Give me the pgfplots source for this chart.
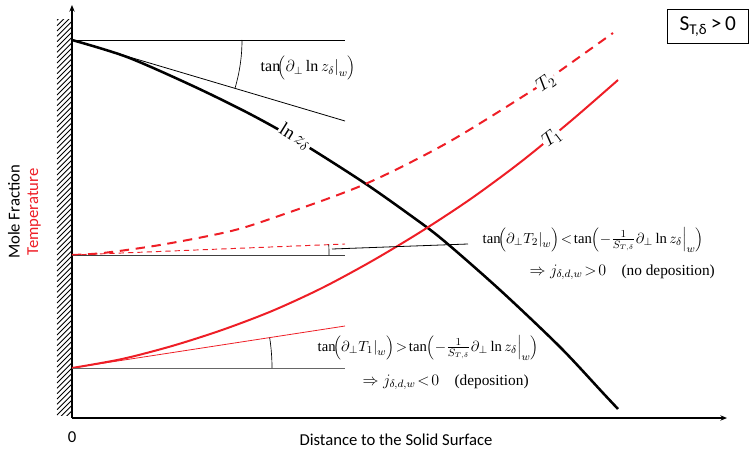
\documentclass[border=0pt]{standalone}
\usepackage{pgfplots}
\pgfplotsset{compat=1.18}
\usepackage{fontspec}
\setmainfont{Liberation Serif}
\newfontfamily\calibri{Carlito}
\usetikzlibrary{arrows.meta}
\definecolor{tred}{RGB}{238,30,38}
\begin{document}
\begin{tikzpicture}
\begin{axis}[scale only axis,width=491.25pt,height=309.75pt,
  xmin=0,xmax=655,ymin=0,ymax=413,
  axis x line=bottom,axis y line=left,ticks=none,clip=false,
  axis line style={line width=0.9pt,-{Stealth[length=5pt,width=4pt]}}]
% page frame
\path (axis cs:-72,-31) rectangle (axis cs:677,418);
\coordinate (hb) at (axis cs:-15,3);
\coordinate (ht) at (axis cs:0,398);
% ln z
\addplot[black,line width=1.9pt,smooth] coordinates {(0,378) (55,361) (121,332) (178,304) (228,276) (291,236) (338,203) (371,178) (428,128) (488,71) (531,25) (546,9)};
% T2
\addplot[tred,line width=1.5pt,smooth,dash pattern=on 7pt off 5pt] coordinates {(0,163) (31,165) (88,173) (155,186) (198,199) (291,233) (375,275) (461,328) (485,345) (541,385)};
% T1
\addplot[tred,line width=1.5pt,smooth] coordinates {(0,50) (50,59) (100,72) (150,88) (200,107) (250,130) (300,157) (350,187) (400,220) (450,257) (500,298) (546,338)};
% horizontals and tangents
\addplot[black,line width=0.6pt] coordinates {(0,378) (273,378)};
\addplot[black,line width=0.6pt] coordinates {(0,378) (273,297)};
\addplot[black!75,line width=0.6pt] coordinates {(0,163) (273,163)};
\addplot[tred,line width=0.7pt,dash pattern=on 4pt off 3pt] coordinates {(0,163) (273,174)};
\addplot[black,line width=0.6pt] coordinates {(260,169) (396,174)};
\addplot[black!60,line width=0.6pt] coordinates {(0,50) (273,50)};
\addplot[tred,line width=0.6pt] coordinates {(0,50) (273,92)};
% angle arcs
\draw[line width=0.5pt] (axis cs:170,378) arc[start angle=0,end angle=-16.5,radius=127.5pt];
\draw[line width=0.5pt] (axis cs:257,163) arc[start angle=0,end angle=2.3,radius=192.75pt];
\draw[line width=0.5pt] (axis cs:200,50) arc[start angle=0,end angle=8.7,radius=150pt];
% curve labels
\node[fill=white,inner sep=1pt,rotate=-32,font=\fontsize{14}{14}\selectfont] at (axis cs:223,281) {$\ln z_\delta$};
\node[fill=white,inner sep=1pt,rotate=35,font=\fontsize{14}{14}\selectfont] at (axis cs:474,335) {$T_2$};
\node[fill=white,inner sep=1pt,rotate=38,font=\fontsize{14}{14}\selectfont] at (axis cs:480,280) {$T_1$};
% annotations
\node[anchor=west,font=\fontsize{12}{14}\selectfont] at (axis cs:184,350) {$\tan\!\Bigl(\partial_\perp \ln z_\delta\big|_{w}\Bigr)$};
\node[anchor=west,font=\fontsize{11}{13}\selectfont] at (axis cs:406,178) {$\tan\!\Bigl(\partial_\perp T_2\big|_w\Bigr)\!<\!\tan\!\left(-\frac{1}{S_{T,\delta}}\partial_\perp \ln z_\delta\Big|_w\right)$};
\node[anchor=west,font=\fontsize{11.5}{13}\selectfont] at (axis cs:453,146) {$\Rightarrow j_{\delta,d,w}\!>\!0$\quad(no deposition)};
\node[anchor=west,font=\fontsize{11}{13}\selectfont] at (axis cs:241,70) {$\tan\!\Bigl(\partial_\perp T_1\big|_w\Bigr)\!>\!\tan\!\left(-\frac{1}{S_{T,\delta}}\partial_\perp \ln z_\delta\Big|_w\right)$};
\node[anchor=west,font=\fontsize{11.5}{13}\selectfont] at (axis cs:286,36) {$\Rightarrow j_{\delta,d,w}\!<\!0$\quad(deposition)};
% axis texts
\node[font=\calibri\fontsize{12.5}{14}\selectfont] at (axis cs:0,-19) {0};
\node[font=\calibri\fontsize{12.5}{14}\selectfont] at (axis cs:324,-22) {Distance to the Solid Surface};
\node[rotate=90,font=\calibri\fontsize{12.5}{14}\selectfont] at (axis cs:-58,206) {Mole Fraction};
\node[rotate=90,text=tred,font=\calibri\fontsize{12.5}{14}\selectfont] at (axis cs:-38,206) {Temperature};
\node[draw,line width=0.6pt,anchor=north west,minimum width=60.5pt,minimum height=25.5pt,inner sep=2pt,font=\calibri\fontsize{16}{17}\selectfont] at (axis cs:595,409) {S\textsubscript{T,δ}\,>\,0};
\end{axis}
% wall hatching
\begin{scope}
\clip (hb) rectangle (ht);
\foreach \k in {0,...,85} {
  \draw[line width=0.65pt] ([yshift=\k*4pt-20pt]hb) -- ++(20pt,20pt);
}
\end{scope}
\end{tikzpicture}
\end{document}
